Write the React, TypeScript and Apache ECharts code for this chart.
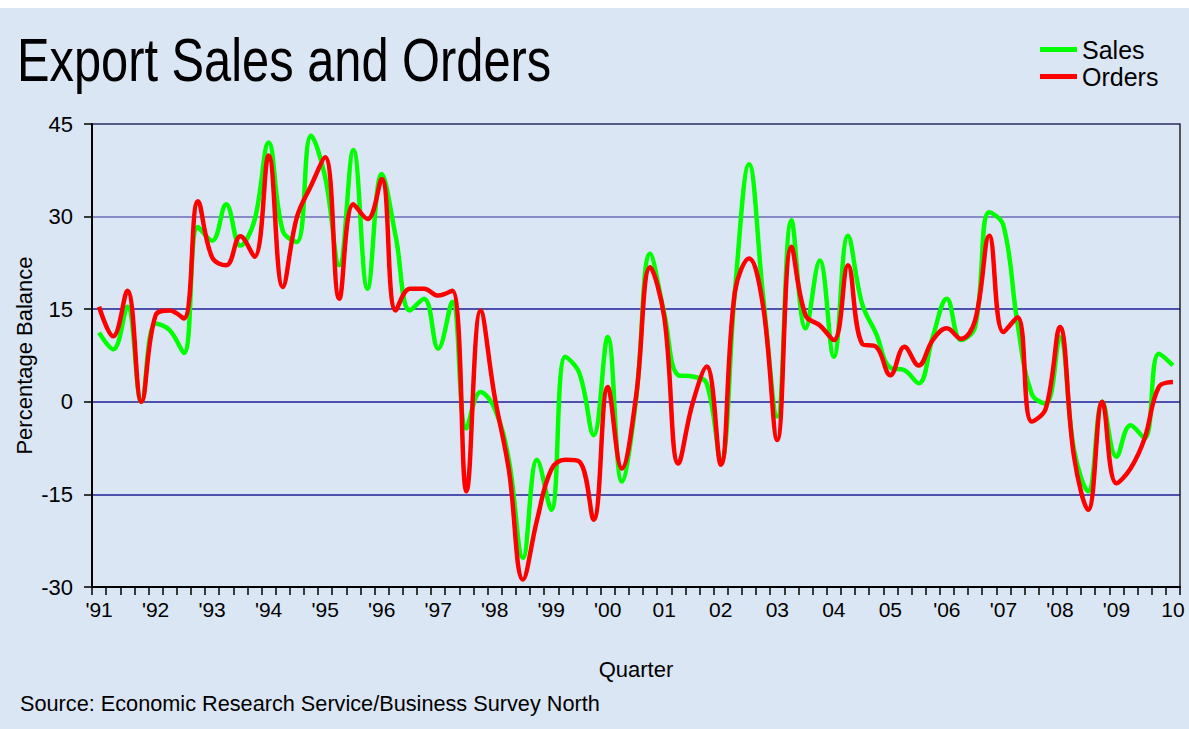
import React, { useEffect, useRef } from "react";
import * as echarts from "echarts";

const years = [1991, 1992, 1993, 1994, 1995, 1996, 1997, 1998, 1999, 2000, 2001, 2002, 2003, 2004, 2005, 2006, 2007, 2008, 2009, 2010];
const quarterNames = ["Q1", "Q2", "Q3", "Q4"];
const categories: string[] = years
  .flatMap((y) => quarterNames.map((q) => `${y} ${q}`))
  .slice(0, 77);

const yearLabels = ["'91", "'92", "'93", "'94", "'95", "'96", "'97", "'98", "'99", "'00", "01", "02", "03", "04", "05", "'06", "'07", "'08", "'09", "10"];

const sales = [
  11.2, 8.5, 15.4, 0, 12.7, 11.6, 7.9, 28.3, 26.1, 32,
  25.3, 29.4, 42, 27.7, 25.9, 43.1, 36.4, 22.1, 40.8, 18.3,
  36.9, 26.7, 14.8, 16.7, 8.6, 16.2, -4.3, 1.6, -1.1, -9.4,
  -25.3, -9.4, -17.5, 7.3, 4.6, -5.4, 10.5, -12.9, 0.3, 24,
  14.3, 4.3, 4.1, 3, -9.7, 18, 38.5, 17, -2.4, 29.4,
  11.9, 22.9, 7.3, 26.9, 15.9, 11,
  5.5, 5.1, 3, 10.5, 16.7, 10, 12.1, 30.7, 28.6, 12.7,
  1.3, -0.3, 10.5, -7.8, -14.5, 0, -8.9, -3.8, -5.9, 7.8, 5.9,
];

const orders = [
  15.4, 10.6, 18, 0, 14, 14.8, 13.5, 32.5, 23.4, 22.1,
  26.8, 23.5, 39.9, 18.6, 29.9, 35.0, 39.6, 16.7, 32, 29.6,
  36.1, 14.8, 18.3, 18.3, 17.2, 18.0, -14.5, 14.8, 0.8, -11,
  -28.8, -19.1, -11, -9.4, -9.7, -19.1, 2.4, -10.8, 0.8, 21.8,
  13.7, -10, -0.3, 5.7, -10.2, 17.8, 23.2, 15.4, -6.2, 25.1,
  14, 12.4, 10, 22.1, 9.4, 8.9,
  4.3, 8.9, 5.9, 10, 11.9, 10.2, 13.2, 26.9, 11.3, 13.7,
  -3.2, -1.1, 12.1, -8.9, -17.5, 0, -13.2, -10.8, -5.9, 2.4, 3.2,
];

const FONT = "'Liberation Sans', Arial, sans-serif";

export default function App() {
  const ref = useRef<HTMLDivElement>(null);
  useEffect(() => {
    document.body.style.margin = "0";
    const chart = echarts.init(ref.current!, undefined, { renderer: "svg" });
    chart.setOption({
      animation: false,
      legend: {
        data: ["Sales", "Orders"],
        orient: "vertical",
        left: 1040,
        top: 37,
        padding: 0,
        itemWidth: 37,
        itemHeight: 5,
        itemGap: 2,
        icon: "rect",
        textStyle: { fontFamily: FONT, fontSize: 25, color: "#000" },
      },
      grid: { left: 92, right: 9, top: 124, bottom: 142 },
      xAxis: {
        type: "category",
        data: categories,
        boundaryGap: true,
        axisLine: { onZero: false, lineStyle: { color: "#000", width: 2 } },
        axisTick: { show: true, interval: 0, length: 8, lineStyle: { color: "#000", width: 1.5 } },
        axisLabel: {
          interval: 3,
          formatter: (_v: string, i: number) => yearLabels[Math.round(i / 4)] ?? "",
          margin: 12,
          fontFamily: FONT,
          fontSize: 21,
          color: "#000",
        },
        name: "Quarter",
        nameLocation: "middle",
        nameGap: 71,
        nameMoveOverlap: false,
        nameTextStyle: { fontFamily: FONT, fontSize: 22, color: "#000" },
      },
      yAxis: [
        {
          type: "value",
          min: -30,
          max: 45,
          interval: 15,
          axisLine: { show: true, lineStyle: { color: "#000", width: 2 } },
          axisTick: { show: true, length: 8, lineStyle: { color: "#000", width: 1.5 } },
          axisLabel: { margin: 19, fontFamily: FONT, fontSize: 22, color: "#000" },
          splitLine: {
            show: true,
            lineStyle: {
              color: ["#000000", "#1e1e96", "#1e1e96", "#1e1e96", "#6c6cba", "#2b2b5e"],
              width: 1.5,
            },
          },
          name: "Percentage Balance",
          nameLocation: "middle",
          nameGap: 57,
          nameMoveOverlap: false,
          nameRotate: 90,
          nameTextStyle: { fontFamily: FONT, fontSize: 22, color: "#000" },
        },
        {
          type: "value",
          min: -30,
          max: 45,
          interval: 15,
          position: "right",
          axisLine: { show: true, lineStyle: { color: "#222", width: 1.5 } },
          axisTick: { show: false },
          axisLabel: { show: false },
          splitLine: { show: false },
        },
      ],
      graphic: [
        {
          type: "text",
          x: 17,
          y: 60,
          scaleX: 0.8,
          style: {
            text: "Export Sales and Orders",
            font: `61px ${FONT}`,
            fill: "#000",
            verticalAlign: "middle",
            align: "left",
          },
        },
        {
          type: "text",
          x: 20,
          y: 703,
          style: {
            text: "Source: Economic Research Service/Business Survey North",
            font: `21.7px ${FONT}`,
            fill: "#000",
            verticalAlign: "middle",
            align: "left",
          },
        },
      ],
      series: [
        {
          name: "Sales",
          type: "line",
          data: sales,
          smooth: 0.4,
          symbol: "none",
          lineStyle: { color: "#00ff00", width: 4.5 },
          itemStyle: { color: "#00ff00" },
          z: 3,
        },
        {
          name: "Orders",
          type: "line",
          data: orders,
          smooth: 0.4,
          symbol: "none",
          lineStyle: { color: "#ff0000", width: 4.5 },
          itemStyle: { color: "#ff0000" },
          z: 4,
        },
      ],
    });
    return () => chart.dispose();
  }, []);
  return (
    <div
      style={{
        width: 1189,
        height: 729,
        background: "linear-gradient(#ffffff 0px, #ffffff 8px, #dbe6f4 8px, #dbe6f4 100%)",
      }}
    >
      <div ref={ref} style={{ width: 1189, height: 729 }} />
    </div>
  );
}
